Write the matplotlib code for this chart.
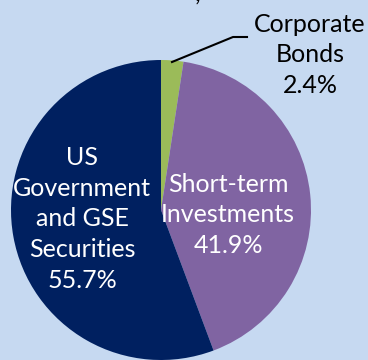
import matplotlib.pyplot as plt

plt.rcParams['font.family'] = ['Lato', 'DejaVu Sans']

# portfolio composition, clockwise from 12 o'clock
labels = ["Corporate\nBonds", "Short-term\nInvestments", "US\nGovernment\nand GSE\nSecurities"]
shares = [2.4, 41.9, 55.7]
colors = ["#9BBB59", "#8064A2", "#002060"]

BG = "#C6D9F1"


def main():
    fig = plt.figure(figsize=(3.68, 3.60), dpi=100, facecolor=BG)
    ax = fig.add_axes([0, 0, 1, 1])
    ax.set_facecolor(BG)

    ax.pie(shares, colors=colors, startangle=90, counterclock=False,
           center=(161, 150), radius=150, frame=True,
           wedgeprops=dict(linewidth=0))
    ax.set_xlim(0, 368)
    ax.set_ylim(0, 360)
    ax.set_aspect("equal")
    ax.axis("off")

    # label spots inside / outside the wedges
    spots = [(310, 305, "#000000"), (228, 145, "white"), (82, 141, "white")]
    for (x, y, c), lab, v in zip(spots, labels, shares):
        ax.text(x, y, f"{lab}\n{v}%", ha="center", va="center",
                color=c, fontsize=18, linespacing=1.42)

    # leader from the thin slice to its label
    ax.plot([172, 233, 247], [298, 323, 323], color="black", lw=1.5)

    # tail of the heading that runs off the top edge
    ax.text(198, 354, ",", ha="center", va="bottom", fontsize=18)

    fig.savefig("out.png", dpi=100, facecolor=BG)


if __name__ == "__main__":
    main()
